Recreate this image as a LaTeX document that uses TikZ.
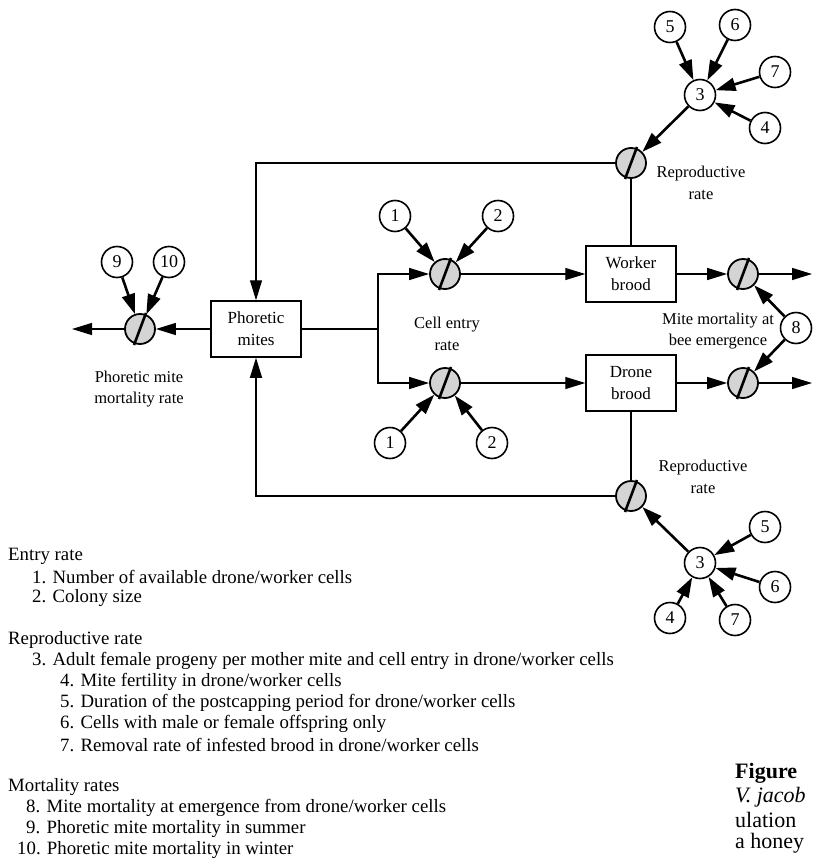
\documentclass[tikz,border=0pt]{standalone}
\usepackage{fontspec}
\setmainfont{Liberation Serif}
\usetikzlibrary{arrows.meta,calc}
\begin{document}
\begin{tikzpicture}[x=1pt,y=-1pt,
  valve/.style={circle,draw,line width=1.8pt,fill=black!17,minimum size=30pt,inner sep=0pt},
  numc/.style={circle,draw,line width=1.6pt,fill=white,minimum size=31pt,inner sep=0pt,font=\fontsize{18}{18}\selectfont},
  boxn/.style={draw,line width=1.5pt,minimum width=90pt,minimum height=56pt,align=center,inner sep=0pt,font=\fontsize{17}{22}\selectfont},
  lbl/.style={align=center,inner sep=0pt,font=\fontsize{16.5}{21.5}\selectfont},
  flow/.style={line width=1.4pt},
  arr/.style={-{Triangle[length=20pt,width=12pt]}},
  infl/.style={line width=2.6pt,-{Triangle[length=20pt,width=13pt]}},
  slash/.style={line width=2.6pt},
  leg/.style={anchor=west,inner sep=0pt,font=\fontsize{18.8}{21}\selectfont},
  capt/.style={anchor=west,inner sep=0pt,font=\fontsize{22}{23}\selectfont}
]
\useasboundingbox (0,0) rectangle (813,859);
\clip (0,0) rectangle (813,859);

% boxes
\node[boxn] (P) at (256,329) {Phoretic\\mites};
\node[boxn] (W) at (631,274) {Worker\\brood};
\node[boxn] (D) at (631,383) {Drone\\brood};

% valves
\node[valve] (vpm) at (140,329) {};
\node[valve] (ve1) at (445,274) {};
\node[valve] (ve2) at (445,383) {};
\node[valve] (vr1) at (631,163) {};
\node[valve] (vr2) at (631,496) {};
\node[valve] (vm1) at (743,274) {};
\node[valve] (vm2) at (743,383) {};
\foreach \v in {vpm,ve1,ve2,vr1,vr2,vm1,vm2}
  \draw[slash] ($(\v)+(-6,16)$) -- ($(\v)+(6,-16)$);

% numbered circles
\node[numc] (c9) at (117,262) {9};
\node[numc] (c10) at (169,262) {10};
\node[numc] (c1a) at (395,216) {1};
\node[numc] (c2a) at (498,216) {2};
\node[numc] (c1b) at (390,443) {1};
\node[numc] (c2b) at (492,443) {2};
\node[numc] (c3a) at (700,95) {3};
\node[numc] (c5a) at (670,27) {5};
\node[numc] (c6a) at (735,25) {6};
\node[numc] (c7a) at (775,72) {7};
\node[numc] (c4a) at (765,128) {4};
\node[numc] (c3b) at (700,563) {3};
\node[numc] (c5b) at (765,527) {5};
\node[numc] (c6b) at (775,587) {6};
\node[numc] (c7b) at (735,620) {7};
\node[numc] (c4b) at (670,618) {4};
\node[numc] (c8) at (796,328) {8};

% free ends
\coordinate (pout) at (72,329);
\coordinate (o1) at (812,274);
\coordinate (o2) at (812,383);
\coordinate (split) at (378,329);

% labels
\node[lbl] (lpm) at (139,389) {Phoretic mite\\mortality rate};
\node[lbl] (lce) at (447,334) {Cell entry\\rate};
\node[lbl] (lr1) at (701,183) {Reproductive\\rate};
\node[lbl] (lr2) at (703,477) {Reproductive\\rate};
\node[lbl] (lmm) at (718,331) {Mite mortality at\\bee emergence};

% flows
\draw[flow,arr] (P.west) -- (vpm.east);
\draw[flow,arr] (vpm.west) -- (pout);
\draw[flow] (P.east) -- (split);
\draw[flow,arr] (split) |- (ve1.west);
\draw[flow,arr] (split) |- (ve2.west);
\draw[flow,arr] (ve1.east) -- (W.west);
\draw[flow,arr] (ve2.east) -- (D.west);
\draw[flow,arr] (W.east) -- (vm1.west);
\draw[flow,arr] (D.east) -- (vm2.west);
\draw[flow,arr] (vm1.east) -- (o1);
\draw[flow,arr] (vm2.east) -- (o2);
\draw[flow] (W.north) -- (vr1.south);
\draw[flow] (D.south) -- (vr2.north);
\draw[flow,arr] (vr1.west) -| (P.north);
\draw[flow,arr] (vr2.west) -| (P.south);

% influences
\draw[infl] (c9) -- (vpm);
\draw[infl] (c10) -- (vpm);
\draw[infl] (c1a) -- (ve1);
\draw[infl] (c2a) -- (ve1);
\draw[infl] (c1b) -- (ve2);
\draw[infl] (c2b) -- (ve2);
\draw[infl] (c5a) -- (c3a);
\draw[infl] (c6a) -- (c3a);
\draw[infl] (c7a) -- (c3a);
\draw[infl] (c4a) -- (c3a);
\draw[infl] (c3a) -- (vr1);
\draw[infl] (c5b) -- (c3b);
\draw[infl] (c6b) -- (c3b);
\draw[infl] (c7b) -- (c3b);
\draw[infl] (c4b) -- (c3b);
\draw[infl] (c3b) -- (vr2);
\draw[infl] (c8) -- (vm1);
\draw[infl] (c8) -- (vm2);

% legend
\node[leg] (g1) at (8,556) {Entry rate};
\node[leg] (g2) at (32,577) {1. Number of available drone/worker cells};
\node[leg] (g3) at (32,598) {2. Colony size};
\node[leg] (g4) at (8,640) {Reproductive rate};
\node[leg] (g5) at (32,661) {3. Adult female progeny per mother mite and cell entry in drone/worker cells};
\node[leg] (g6) at (60,682) {4. Mite fertility in drone/worker cells};
\node[leg] (g7) at (60,703) {5. Duration of the postcapping period for drone/worker cells};
\node[leg] (g8) at (60,724) {6. Cells with male or female offspring only};
\node[leg] (g9) at (60,745) {7. Removal rate of infested brood in drone/worker cells};
\node[leg] (g10) at (8,787) {Mortality rates};
\node[leg] (g11) at (26,808) {8. Mite mortality at emergence from drone/worker cells};
\node[leg] (g12) at (26,829) {9. Phoretic mite mortality in summer};
\node[leg] (g13) at (17,850) {10. Phoretic mite mortality in winter};

% caption fragment
\node[capt] (k1) at (735,773) {\textbf{Figure}};
\node[capt] (k2) at (735,797) {\textit{V. jacob}};
\node[capt] (k3) at (735,820) {ulation};
\node[capt] (k4) at (735,843) {a honey};
\end{tikzpicture}
\end{document}
